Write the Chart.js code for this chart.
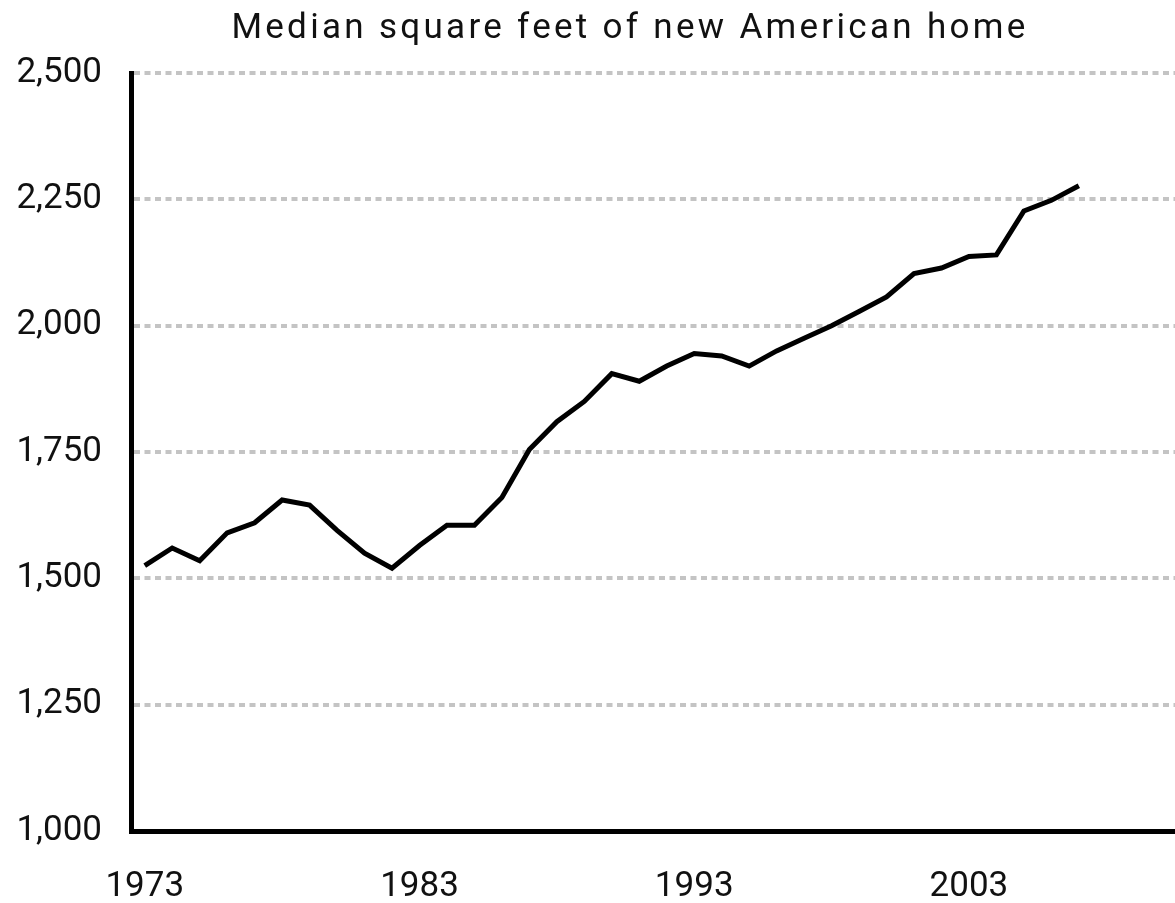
<!DOCTYPE html>
<html>
<head>
<meta charset="utf-8">
<script src="https://cdn.jsdelivr.net/npm/chart.js@4/dist/chart.umd.min.js"></script>
<style>
  html, body { margin: 0; padding: 0; background: #fff; }
  #wrap { width: 1175px; height: 903px; position: relative; }
</style>
</head>
<body>
<div id="wrap"><canvas id="homeChart"></canvas></div>
<script>
// median square feet of new single-family homes, by year
const years = [
  1973, 1974, 1975, 1976, 1977, 1978, 1979, 1980, 1981, 1982,
  1983, 1984, 1985, 1986, 1987, 1988, 1989, 1990, 1991, 1992,
  1993, 1994, 1995, 1996, 1997, 1998, 1999, 2000, 2001, 2002,
  2003, 2004, 2005, 2006, 2007
];
const sqft = [
  1525, 1560, 1535, 1590, 1610, 1655, 1645, 1595, 1550, 1520,
  1565, 1605, 1605, 1660, 1755, 1810, 1850, 1905, 1890, 1920,
  1945, 1940, 1920, 1950, 1975, 2000, 2028, 2057, 2103, 2114,
  2137, 2140, 2227, 2248, 2277
];
const yearTicks = [1973, 1983, 1993, 2003];
const sqftTicks = [1000, 1250, 1500, 1750, 2000, 2250, 2500];
const chartTitle = "Median square feet of new American home";

const fontFamily = "Roboto, 'DejaVu Sans', sans-serif";
const ctx = document.getElementById("homeChart").getContext("2d");

// the built-in title can't do letter spacing, so draw it here
const spacedTitle = {
  id: "spacedTitle",
  afterDraw(chart) {
    const c = chart.ctx;
    c.save();
    c.font = "35px " + fontFamily;
    c.fillStyle = "#111";
    c.textAlign = "center";
    c.textBaseline = "middle";
    c.letterSpacing = "3.3px";
    c.fillText(chartTitle, 630, 29);
    c.restore();
  }
};

new Chart(ctx, {
  type: "line",
  data: {
    datasets: [{
      label: "Median square feet",
      data: years.map((yr, i) => ({ x: yr, y: sqft[i] })),
      borderColor: "#000",
      borderWidth: 5,
      pointRadius: 0,
      tension: 0,
      fill: false
    }]
  },
  options: {
    responsive: true,
    maintainAspectRatio: false,
    animation: false,
    layout: { padding: { top: 73 } },
    plugins: {
      legend: { display: false },
      tooltip: { enabled: false },
      title: { display: false }
    },
    scales: {
      x: {
        type: "linear",
        min: 1972.5,
        max: 2010.5,
        afterBuildTicks: (scale) => {
          scale.ticks = yearTicks.map((v) => ({ value: v }));
        },
        afterFit: (scale) => { scale.height = 72; },
        grid: { display: false, drawTicks: false },
        border: { display: true, color: "#000", width: 5 },
        ticks: {
          color: "#111",
          padding: 35,
          maxRotation: 0,
          font: { family: fontFamily, size: 35 },
          callback: (v) => String(v)
        }
      },
      y: {
        min: 1000,
        max: 2500,
        afterBuildTicks: (scale) => {
          scale.ticks = sqftTicks.map((v) => ({ value: v }));
        },
        afterFit: (scale) => { scale.width = 131; },
        grid: {
          drawTicks: false,
          lineWidth: 4,
          color: (c) => (c.tick && c.tick.value === 1000 ? "rgba(0,0,0,0)" : "#c4c4c4")
        },
        border: { display: true, color: "#000", width: 5, dash: [6, 4.5] },
        ticks: {
          color: "#111",
          padding: 29,
          font: { family: fontFamily, size: 35 },
          callback: (v) => v.toLocaleString("en-US")
        }
      }
    }
  },
  plugins: [spacedTitle]
});
</script>
</body>
</html>
